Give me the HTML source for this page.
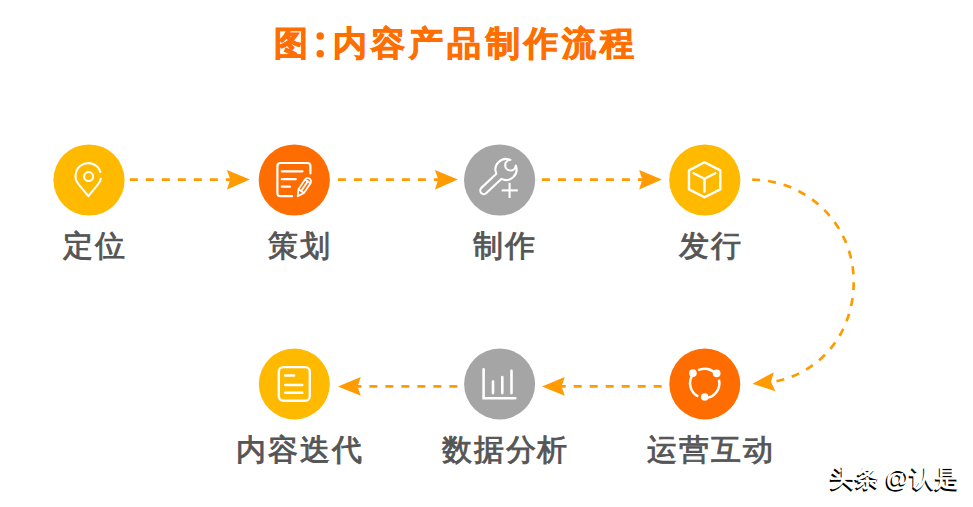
<!DOCTYPE html>
<html><head><meta charset="utf-8">
<style>
html,body{margin:0;padding:0;background:#fff;}
body{width:973px;height:507px;position:relative;overflow:hidden;font-family:"Liberation Sans",sans-serif;}
.t{position:absolute;white-space:nowrap;}
#title{left:274px;top:21px;font-size:34px;line-height:44px;font-weight:bold;color:#FF6E00;letter-spacing:4.1px;-webkit-text-stroke:0.9px #FF6E00;}
#colon{display:inline-block;width:21px;letter-spacing:0;color:transparent;-webkit-text-stroke:0;text-align:center;}
.lb{position:absolute;width:200px;text-align:center;font-size:30px;color:#555;line-height:40px;letter-spacing:1.9px;-webkit-text-stroke:0.9px #555;}
#wm{left:830px;top:462px;font-size:24px;font-weight:bold;letter-spacing:1px;word-spacing:-2px;color:#fff;text-shadow:-1.5px 1.5px 0 #000;}
svg{position:absolute;left:0;top:0;}
</style></head><body>
<svg width="973" height="507" viewBox="0 0 973 507">
  <circle cx="320.2" cy="36" r="3.75" fill="#FF6E00"/><circle cx="320.2" cy="53.75" r="3.75" fill="#FF6E00"/>
  <!-- circles -->
  <circle cx="89" cy="180" r="35.6" fill="#FFBA00"/>
  <circle cx="294.3" cy="180" r="35.6" fill="#FF6D00"/>
  <circle cx="499.6" cy="180" r="35.6" fill="#A5A5A5"/>
  <circle cx="704.8" cy="180" r="35.6" fill="#FFBA00"/>
  <circle cx="294.3" cy="384" r="35.5" fill="#FFBA00"/>
  <circle cx="499.6" cy="384" r="35.5" fill="#A5A5A5"/>
  <circle cx="704.8" cy="384" r="35.5" fill="#FF6D00"/>

  <!-- straight dashed arrows top -->
  <g stroke="#FF9B00" stroke-width="2.7" stroke-dasharray="8 8" fill="none">
    <line x1="129.8" y1="179.6" x2="232" y2="179.6"/>
    <line x1="337.9" y1="179.6" x2="440" y2="179.6"/>
    <line x1="541.9" y1="179.6" x2="644" y2="179.6"/>
    <line x1="661.7" y1="386.4" x2="561" y2="386.4" />
    <line x1="457.4" y1="386.4" x2="357" y2="386.4" />
    <path d="M751.9 179.7 A101.8 101.9 0 0 1 853.7 281.6 C853.7 333.99 819.58 374.21 771 382.38" stroke-dashoffset="15.7"/>
  </g>
  <g fill="#FF9B00">
    <path d="M249.80 179.6 L227.00 169.9 L230.20 179.6 L227.00 189.6 Z"/>
    <path d="M457.80 179.6 L435.00 169.9 L438.20 179.6 L435.00 189.6 Z"/>
    <path d="M661.90 179.6 L639.10 169.9 L642.30 179.6 L639.10 189.6 Z"/>
    <path d="M542.00 386.4 L564.80 376.9 L561.50 386.4 L564.80 395.8 Z"/>
    <path d="M338.00 386.4 L360.80 376.9 L357.50 386.4 L360.80 395.8 Z"/>
    <path d="M752.5 383.7 L773.8 372.2 L771 382.1 L775.4 391.2 Z"/>
  </g>

  <!-- icons -->
  <g stroke="#fff" stroke-width="2" fill="none" stroke-linecap="butt" stroke-linejoin="round">
    <!-- pin -->
    <path d="M100.66 172.69 A12.8 12.8 0 1 0 78.64 184.4 L88.4 196.2 L97.96 184.4 A12.8 12.8 0 0 0 100.98 177.78"/>
    <circle cx="88.6" cy="176.6" r="4.5"/>
  </g>
  <g stroke="#fff" stroke-width="2.2" fill="none" stroke-linecap="round" stroke-linejoin="round">
    <!-- document + pencil -->
    <path d="M292 196.2 H280.4 Q277.4 196.3 277.4 193.3 V166 Q277.4 163 280.4 163 H307.4 Q310.4 163 310.4 166 V173.5"/>
    <line x1="281.8" y1="171.3" x2="302.5" y2="171.3"/>
    <line x1="281.8" y1="179.2" x2="295.8" y2="179.2"/>
    <line x1="281.8" y1="186.7" x2="289.9" y2="186.7"/>
  </g>
  <g transform="translate(297.7 196.3) rotate(-56)" stroke="#fff" stroke-width="1.8" fill="none" stroke-linejoin="round">
    <path d="M0 0 L6.3 -3.3 H18 A3.3 3.3 0 0 1 18 3.3 H6.3 Z"/>
    <line x1="6.3" y1="-3.3" x2="6.3" y2="3.3"/>
    <line x1="18" y1="-3.3" x2="18" y2="3.3"/>
    <line x1="6.3" y1="0" x2="18" y2="0"/>
  </g>
  <!-- wrench -->
  <g transform="translate(506 169.5) rotate(46.5)" stroke="#fff" stroke-width="2.1" fill="none" stroke-linejoin="round">
    <path d="M-3.95 -9.73 A5.3 5.3 0 1 0 3.95 -9.73 A10.5 10.5 0 0 1 3.6 9.86 L3.6 30.5 A3.6 3.6 0 0 1 -3.6 30.5 L-3.6 9.86 A10.5 10.5 0 0 1 -3.95 -9.73 Z"/>
  </g>
  <g stroke="#fff" stroke-width="2.1" fill="none">
    <line x1="501.7" y1="190.4" x2="517.8" y2="190.4"/>
    <line x1="509.6" y1="182.8" x2="509.6" y2="198"/>
  </g>
  <!-- cube -->
  <g stroke="#fff" stroke-width="2.4" fill="none" stroke-linejoin="round" stroke-linecap="round">
    <path d="M704.5 162.3 L720.3 170.4 V189.4 L704.5 197.3 L689 189.4 V170.4 Z"/>
    <path d="M693.6 173.2 L704.5 178.7 L715.3 173.2 M704.5 178.7 V191.6"/>
  </g>
  <!-- doc icon -->
  <g stroke="#fff" stroke-width="2.4" fill="none" stroke-linecap="round">
    <rect x="278.8" y="367.1" width="31" height="33.6" rx="4.6"/>
    <line x1="285.2" y1="375.5" x2="294.1" y2="375.5"/>
    <line x1="285.2" y1="385" x2="302.3" y2="385"/>
    <line x1="285.2" y1="392.8" x2="302.3" y2="392.8"/>
  </g>
  <!-- chart icon -->
  <g stroke="#fff" stroke-width="2.6" fill="none" stroke-linecap="round">
    <path d="M483.6 369.3 V398.3 H515.3"/>
    <line x1="493" y1="381.5" x2="493" y2="393.1"/>
    <line x1="502.3" y1="377" x2="502.3" y2="393.1"/>
    <line x1="511.5" y1="370.8" x2="511.5" y2="393.1"/>
  </g>
  <!-- share/ring icon -->
  <g>
    <path d="M698.12 370.21 A14.65 14.65 0 0 1 716.00 373.98 M718.88 379.61 A14.65 14.65 0 0 1 704.70 397.95 M698.28 396.47 A14.65 14.65 0 0 1 693.59 373.75" stroke="#fff" stroke-width="2.5" fill="none"/>
    <circle cx="692.9" cy="373.15" r="3.8" fill="#fff"/>
    <circle cx="716.7" cy="373.4" r="3.8" fill="#fff"/>
    <circle cx="704.7" cy="397" r="3.8" fill="#fff"/>
  </g>
</svg>
<div class="t" id="title">图<span id="colon">:</span>内容产品制作流程</div>
<div class="lb" style="left:-5px;top:225.5px;">定位</div>
<div class="lb" style="left:200.3px;top:225.5px;">策划</div>
<div class="lb" style="left:405px;top:225.5px;">制作</div>
<div class="lb" style="left:610.8px;top:225.5px;">发行</div>
<div class="lb" style="left:200.3px;top:429.5px;">内容迭代</div>
<div class="lb" style="left:405.6px;top:429.5px;">数据分析</div>
<div class="lb" style="left:610.8px;top:429.5px;">运营互动</div>
<div class="t" id="wm">头条 @认是</div>
</body></html>
